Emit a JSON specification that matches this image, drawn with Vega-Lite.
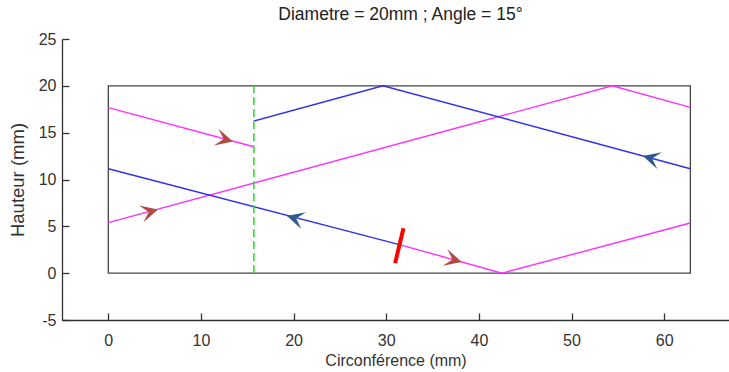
{
  "$schema": "https://vega.github.io/schema/vega-lite/v6.json",
  "autosize": {"type": "none"},
  "width": 667,
  "height": 281,
  "padding": {"left": 62, "top": 39, "right": 0, "bottom": 52},
  "title": {"text": "Diametre = 20mm ; Angle = 15°", "fontSize": 17.5, "fontWeight": "normal", "font": "Liberation Sans", "color": "#222", "offset": 8, "dx": 5},
  "config": {
    "view": {"stroke": null},
    "axis": {"labelFont": "Liberation Sans", "labelFontSize": 16, "labelColor": "#333", "titleFont": "Liberation Sans", "titleFontWeight": "normal", "titleColor": "#333", "domainColor": "#333", "tickColor": "#333", "domainWidth": 1.3, "tickWidth": 1.3, "grid": false, "tickSize": -7, "labelExpr": "'' + datum.value"}
  },
  "datasets": {
    "box": [{"x0": 0, "x1": 62.83, "y0": 0, "y1": 20}],
    "paths": [
      {"seg": "m1", "series": "m", "i": 0, "x": 0, "y": 17.67},
      {"seg": "m1", "series": "m", "i": 1, "x": 15.71, "y": 13.5},
      {"seg": "m2", "series": "m", "i": 0, "x": 0, "y": 5.4},
      {"seg": "m2", "series": "m", "i": 1, "x": 54.4, "y": 20},
      {"seg": "m2", "series": "m", "i": 2, "x": 62.83, "y": 17.7},
      {"seg": "m3", "series": "m", "i": 0, "x": 31.42, "y": 3.05},
      {"seg": "m3", "series": "m", "i": 1, "x": 42.5, "y": 0},
      {"seg": "m3", "series": "m", "i": 2, "x": 62.83, "y": 5.36},
      {"seg": "b1", "series": "b", "i": 0, "x": 0, "y": 11.15},
      {"seg": "b1", "series": "b", "i": 1, "x": 31.42, "y": 3.05},
      {"seg": "b2", "series": "b", "i": 0, "x": 15.71, "y": 16.25},
      {"seg": "b2", "series": "b", "i": 1, "x": 29.65, "y": 20},
      {"seg": "b2", "series": "b", "i": 2, "x": 62.83, "y": 11.15}
    ],
    "seam": [{"x": 15.71, "y0": 0, "y1": 20}],
    "cut": [{"xa": 31.86, "ya": 4.8, "xb": 30.96, "yb": 1.07}],
    "arrows": [
      {"x": 13.45, "y": 14.05, "heading": 345, "series": "m"},
      {"x": 5.36, "y": 6.8, "heading": 15, "series": "m"},
      {"x": 19.28, "y": 6.1, "heading": 165, "series": "b"},
      {"x": 57.7, "y": 12.5, "heading": 165, "series": "b"},
      {"x": 38.15, "y": 1.2, "heading": 345, "series": "m"}
    ]
  },
  "layer": [
    {
      "data": {"name": "box"},
      "mark": {"type": "rect", "fill": "transparent", "stroke": "#444", "strokeWidth": 1.3},
      "encoding": {
        "x": {"field": "x0", "type": "quantitative", "scale": {"domain": [-5, 67], "nice": false, "zero": false}, "axis": {"values": [0, 10, 20, 30, 40, 50, 60], "title": "Circonférence (mm)", "titleFontSize": 16, "titlePadding": 4, "labelPadding": 19}},
        "x2": {"field": "x1"},
        "y": {"field": "y0", "type": "quantitative", "scale": {"domain": [-5, 25], "nice": false, "zero": false}, "axis": {"values": [-5, 0, 5, 10, 15, 20, 25], "title": "Hauteur (mm)", "titleFontSize": 18.5, "titlePadding": 11, "labelPadding": 13}},
        "y2": {"field": "y1"}
      }
    },
    {
      "data": {"name": "paths"},
      "mark": {"type": "line", "strokeWidth": 1.4},
      "encoding": {
        "x": {"field": "x", "type": "quantitative"},
        "y": {"field": "y", "type": "quantitative"},
        "detail": {"field": "seg"},
        "order": {"field": "i"},
        "color": {"field": "series", "type": "nominal", "scale": {"domain": ["m", "b"], "range": ["#ff30ff", "#3030ee"]}, "legend": null}
      }
    },
    {
      "data": {"name": "seam"},
      "mark": {"type": "rule", "color": "#33dd33", "strokeWidth": 1.6, "strokeDash": [8, 4]},
      "encoding": {
        "x": {"field": "x", "type": "quantitative"},
        "y": {"field": "y0", "type": "quantitative"},
        "y2": {"field": "y1"}
      }
    },
    {
      "data": {"name": "cut"},
      "mark": {"type": "rule", "color": "#ff0000", "strokeWidth": 4, "strokeCap": "butt"},
      "encoding": {
        "x": {"field": "xa", "type": "quantitative"},
        "y": {"field": "ya", "type": "quantitative"},
        "x2": {"field": "xb"},
        "y2": {"field": "yb"}
      }
    },
    {
      "data": {"name": "arrows"},
      "mark": {"type": "point", "shape": "M -2 -1 L 0 0 L -2 1 L -1.1 0 Z", "filled": true, "size": 300, "opacity": 1, "strokeWidth": 0},
      "encoding": {
        "x": {"field": "x", "type": "quantitative"},
        "y": {"field": "y", "type": "quantitative"},
        "angle": {"field": "heading", "type": "quantitative", "scale": {"domain": [0, 360], "range": [360, 0]}},
        "fill": {"field": "series", "type": "nominal", "scale": {"domain": ["m", "b"], "range": ["#b04a42", "#2e5a8a"]}, "legend": null}
      }
    }
  ]
}
